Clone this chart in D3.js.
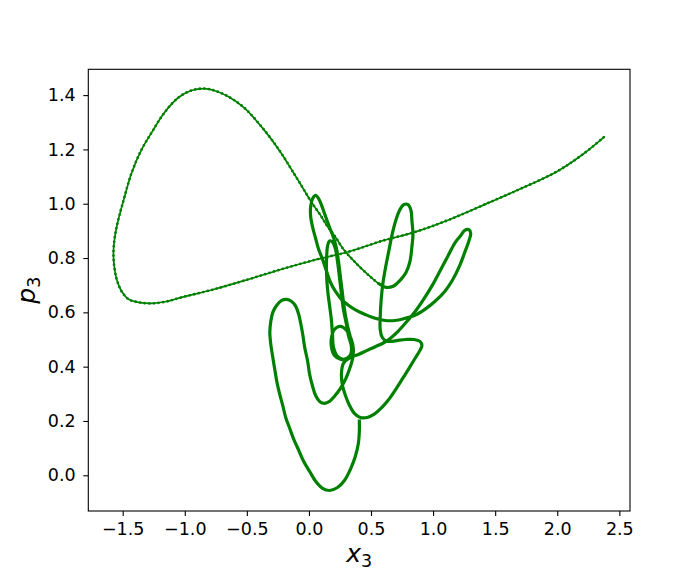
<!DOCTYPE html>
<html>
<head>
<meta charset="utf-8">
<script src="https://cdn.jsdelivr.net/npm/d3@7"></script>
<style>
  body { margin: 0; background: #fff; }
  svg { display: block; }
  text { font-family: "DejaVu Sans", sans-serif; }
</style>
</head>
<body>
<div id="chart"></div>
<script>
// bounded part of the trajectory (slow, dense points)
const x3Bound = [0.406,0.406,0.398,0.374,0.334,0.286,0.230,0.166,0.110,0.054,0.006,-0.042,-0.082,-0.122,-0.155,-0.187,-0.211,-0.235,-0.259,-0.275,-0.291,-0.307,-0.315,-0.307,-0.291,-0.259,-0.219,-0.179,-0.139,-0.106,-0.082,-0.066,-0.050,-0.034,-0.010,0.006,0.030,0.054,0.086,0.126,0.166,0.206,0.254,0.294,0.326,0.350,
  0.358,0.342,0.302,0.254,0.206,0.182,0.182,0.206,0.254,0.302,0.334,0.342,0.318,
  0.302,0.278,0.262,0.246,0.230,0.214,0.190,0.166,0.150,
  0.142,0.142,0.150,0.166,0.182,0.190,0.198,0.230,0.278,0.326,0.350,0.334,
  0.310,0.286,0.270,0.254,0.238,0.222,
  0.198,0.166,0.134,0.102,0.078,0.054,0.030,0.014,0.014,0.030,0.054,0.078,0.110,0.142,0.174,0.214,0.262,0.318,0.382,0.454,0.534,0.614,0.694,0.774,0.854,0.934,1.014,1.094,1.159,1.215,1.255,1.287,1.303,1.287,1.255,1.223,1.175,1.118,1.062,0.998,0.934,0.862,0.790,0.718,0.654,0.606,
  0.542,0.470,0.398,0.334,0.278,0.262,0.270,0.294,0.326,0.366,0.414,
  0.470,0.526,0.582,0.638,0.694,0.750,0.806,0.854,0.894,0.910,0.894,0.846,0.782,0.718,0.654,0.614,
  0.590,0.574,0.574,0.582,0.598,0.622,0.646,0.670,0.702,0.734,0.766,0.798,0.822,0.830,0.838,0.830,0.814,0.782,0.734,0.678,0.622,0.558];
const p3Bound = [0.206,0.162,0.117,0.070,0.022,-0.019,-0.045,-0.056,-0.048,-0.022,0.014,0.051,0.092,0.132,0.173,0.213,0.257,0.298,0.346,0.390,0.434,0.482,0.526,0.567,0.600,0.626,0.644,0.648,0.640,0.622,0.592,0.559,0.519,0.471,0.419,0.371,0.327,0.294,0.272,0.265,0.272,0.291,0.320,0.353,0.390,0.427,
  0.464,0.500,0.534,0.548,0.537,0.508,0.471,0.441,0.427,0.427,0.441,0.475,0.515,
  0.556,0.611,0.666,0.729,0.788,0.832,0.859,0.863,0.844,
  0.795,0.740,0.685,0.626,0.567,0.515,0.471,0.438,0.427,0.438,0.471,0.508,
  0.552,0.611,0.670,0.729,0.788,0.835,
  0.876,0.913,0.953,0.994,1.019,1.031,1.019,0.990,0.953,0.913,0.872,0.832,0.795,0.751,0.710,0.677,0.648,0.626,0.607,0.592,0.578,0.570,0.570,0.578,0.589,0.611,0.640,0.677,0.721,0.773,0.821,0.861,0.891,0.905,0.902,0.883,0.855,0.806,0.758,0.703,0.655,0.607,0.567,0.530,0.504,0.489,
  0.475,0.460,0.445,0.434,0.412,0.375,0.331,0.294,0.258,0.228,0.213,
  0.213,0.225,0.247,0.276,0.313,0.353,0.394,0.430,0.460,0.478,0.493,0.500,0.500,0.497,0.493,0.497,
  0.508,0.537,0.581,0.648,0.714,0.777,0.832,0.887,0.942,0.979,0.997,0.997,0.975,0.935,0.887,0.844,0.788,0.747,0.718,0.696,0.692,0.707];

// escaping part (fast, sparse points)
const x3Escape = [0.558,0.510,0.430,0.350,0.278,0.214,0.150,0.094,0.038,-0.018,-0.066,-0.122,-0.227,-0.363,-0.523,-0.651,-0.763,-0.843,-0.947,-1.051,-1.163,-1.267,-1.347,-1.427,-1.491,-1.548,-1.572,-1.572,-1.548,-1.508,-1.452,-1.372,-1.267,-1.147,-1.027,-0.763,-0.491,-0.227,0.038,0.334,0.574,0.870,1.134,1.455,1.695,1.999,2.215,2.383];
const p3Escape = [0.707,0.725,0.758,0.795,0.832,0.877,0.916,0.957,0.994,1.034,1.071,1.112,1.189,1.273,1.354,1.395,1.417,1.424,1.417,1.391,1.336,1.262,1.200,1.115,1.016,0.916,0.843,0.788,0.721,0.677,0.648,0.637,0.633,0.640,0.655,0.685,0.721,0.758,0.792,0.825,0.861,0.898,0.942,1.005,1.053,1.119,1.185,1.248];

const xTicks = [-1.5,-1.0,-0.5,0.0,0.5,1.0,1.5,2.0,2.5];
const yTicks = [0.0,0.2,0.4,0.6,0.8,1.0,1.2,1.4];

const W = 700, H = 574;
const axLeft = 88.3, axRight = 630, axTop = 69.3, axBottom = 511;
const green = "#008000";

const svg = d3.select("#chart").append("svg")
  .attr("width", W).attr("height", H);

const x = d3.scaleLinear().domain([-1.777, 2.586]).range([axLeft, axRight]);
const y = d3.scaleLinear().domain([-0.1315, 1.495]).range([axBottom, axTop]);

const line = d3.line()
  .x(d => x(d[0]))
  .y(d => y(d[1]))
  .curve(d3.curveCatmullRom.alpha(0.5));

const bound = x3Bound.map((v, i) => [v, p3Bound[i]]);
const escape = x3Escape.map((v, i) => [v, p3Escape[i]]);

// fast part: thin line with marker-like dots
svg.append("path")
  .datum(escape)
  .attr("fill", "none")
  .attr("stroke", green)
  .attr("stroke-width", 1.7)
  .attr("d", line);
svg.append("path")
  .datum(escape)
  .attr("fill", "none")
  .attr("stroke", green)
  .attr("stroke-width", 2.8)
  .attr("stroke-linecap", "round")
  .attr("stroke-dasharray", "0 4.6")
  .attr("d", line);

// slow part: dense points make a thick line
svg.append("path")
  .datum(bound)
  .attr("fill", "none")
  .attr("stroke", green)
  .attr("stroke-width", 3.2)
  .attr("stroke-linejoin", "round")
  .attr("d", line);

const fmt = d3.format(".1f");

const gx = svg.append("g")
  .attr("transform", `translate(0,${axBottom})`)
  .call(d3.axisBottom(x).tickValues(xTicks).tickFormat(fmt).tickSize(5).tickPadding(7));
const gy = svg.append("g")
  .attr("transform", `translate(${axLeft},0)`)
  .call(d3.axisLeft(y).tickValues(yTicks).tickFormat(fmt).tickSize(5).tickPadding(7.6));

[gx, gy].forEach(g => {
  g.select(".domain").remove();
  g.selectAll(".tick line").attr("stroke", "#000").attr("stroke-width", 1.1);
  g.selectAll(".tick text")
    .attr("fill", "#000")
    .style("font-family", "'DejaVu Sans', sans-serif")
    .style("font-size", "17.5px");
});

// frame
svg.append("rect")
  .attr("x", axLeft).attr("y", axTop)
  .attr("width", axRight - axLeft).attr("height", axBottom - axTop)
  .attr("fill", "none")
  .attr("stroke", "#000")
  .attr("stroke-width", 1.1);

// axis labels
const xl = svg.append("text")
  .attr("x", (axLeft + axRight) / 2).attr("y", 562)
  .attr("text-anchor", "middle")
  .style("font-size", "25px");
xl.append("tspan").style("font-style", "italic").text("x");
xl.append("tspan").attr("dy", 5).style("font-size", "17.5px").text("3");

const yl = svg.append("text")
  .attr("transform", `translate(35,${(axTop + axBottom) / 2}) rotate(-90)`)
  .attr("text-anchor", "middle")
  .style("font-size", "25px");
yl.append("tspan").style("font-style", "italic").text("p");
yl.append("tspan").attr("dy", 5).style("font-size", "17.5px").text("3");
</script>
</body>
</html>
